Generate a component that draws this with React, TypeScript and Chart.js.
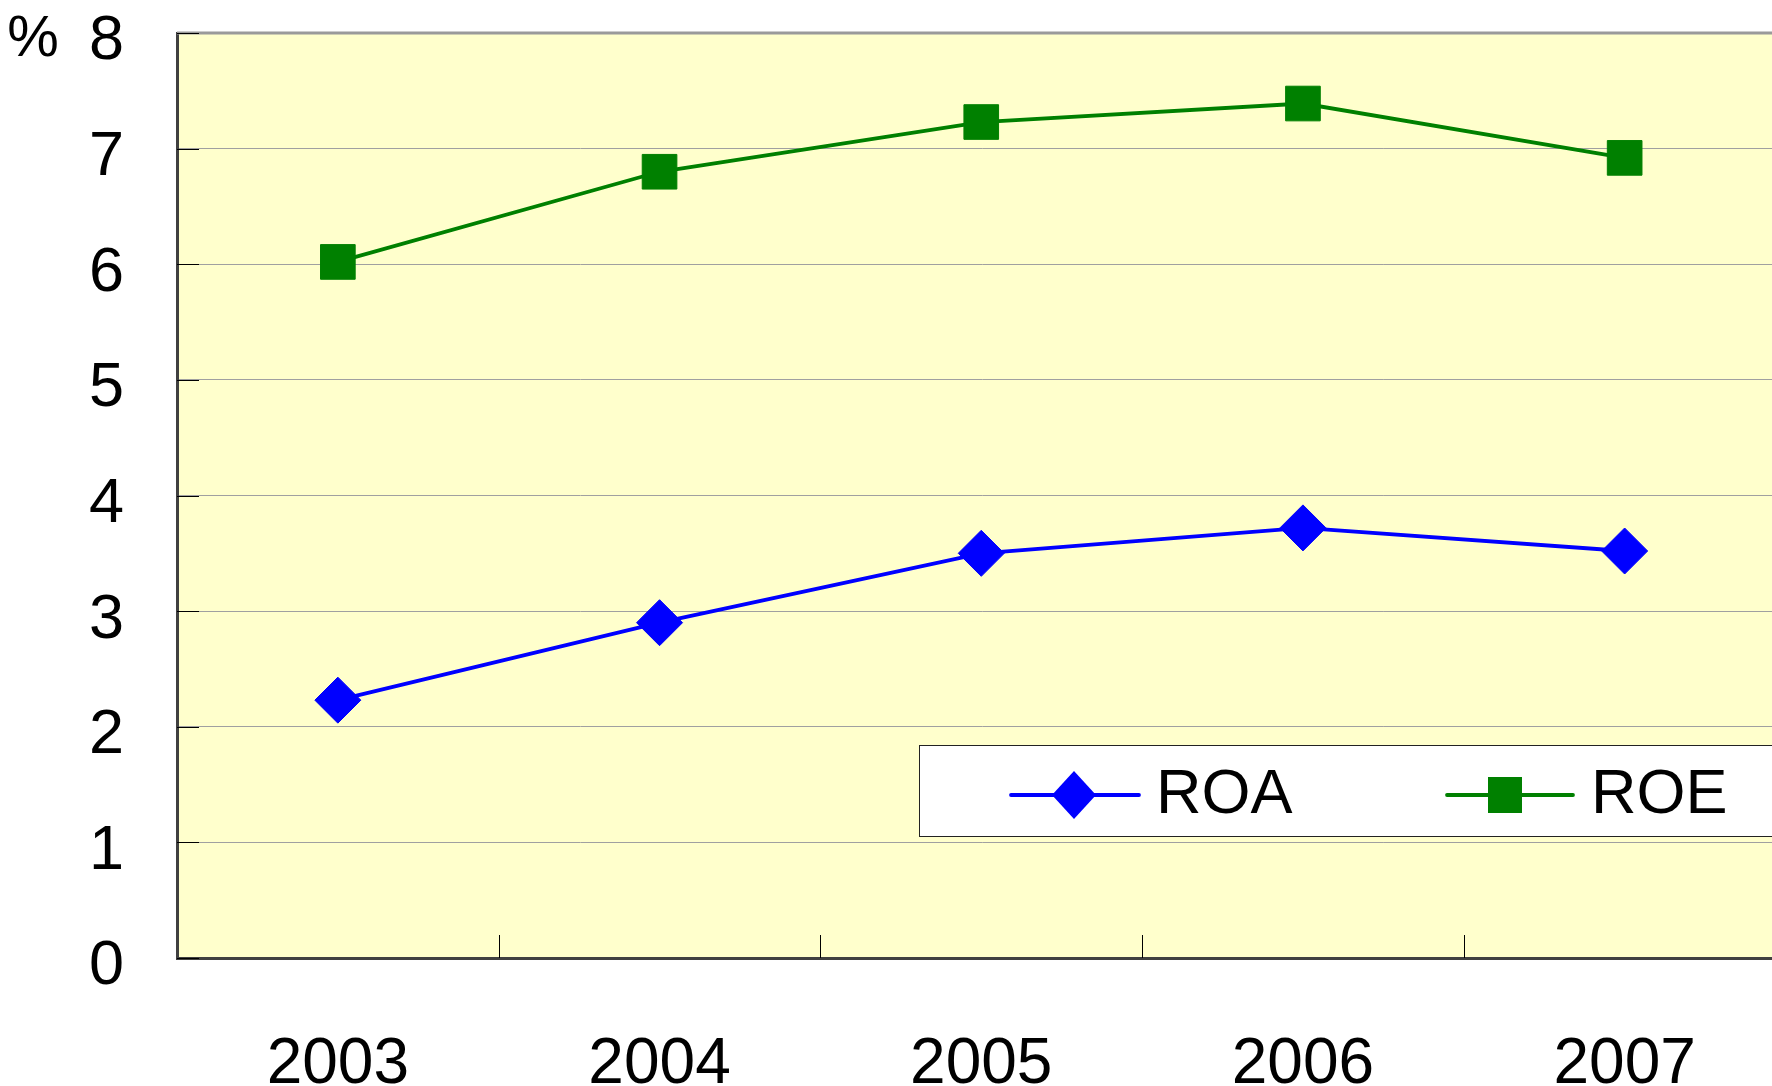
import React, { useEffect, useRef } from 'react';
import { Chart, registerables } from 'chart.js';

Chart.register(...registerables);

const years = ['2003', '2004', '2005', '2006', '2007'];
const roaValues = [2.23, 2.9, 3.5, 3.72, 3.52];
const roeValues = [6.02, 6.8, 7.23, 7.39, 6.92];
const seriesNames = ['ROA', 'ROE'];
const yMin = 0;
const yMax = 8;
const yStep = 1;
const unitLabel = '%';

const FONT = "'Liberation Sans', Arial, sans-serif";

const decor = {
  id: 'decor',
  beforeDraw(chart: any) {
    const { ctx, chartArea: a } = chart;
    ctx.save();
    ctx.fillStyle = '#FFFFCC';
    ctx.fillRect(a.left, a.top, a.right - a.left, a.bottom - a.top);
    ctx.restore();
  },
  afterDraw(chart: any) {
    const { ctx, chartArea: a, scales } = chart;
    const xs = scales.x;
    const ys = scales.y;
    ctx.save();
    // top border
    ctx.strokeStyle = '#9a9a9a';
    ctx.lineWidth = 3;
    ctx.beginPath();
    ctx.moveTo(a.left, a.top);
    ctx.lineTo(a.right, a.top);
    ctx.stroke();
    // inner y tick marks
    ctx.strokeStyle = '#000';
    ctx.lineWidth = 1;
    ys.ticks.forEach((t: any) => {
      const py = Math.round(ys.getPixelForValue(t.value)) + 0.5;
      ctx.beginPath();
      ctx.moveTo(a.left, py);
      ctx.lineTo(a.left + 22, py);
      ctx.stroke();
    });
    // inner x tick marks at category boundaries
    for (let i = 0; i < years.length - 1; i++) {
      const px = Math.round((xs.getPixelForValue(i) + xs.getPixelForValue(i + 1)) / 2) + 0.5;
      ctx.beginPath();
      ctx.moveTo(px, a.bottom);
      ctx.lineTo(px, a.bottom - 23);
      ctx.stroke();
    }
    // unit label
    ctx.fillStyle = '#000';
    ctx.font = `58px ${FONT}`;
    ctx.textAlign = 'center';
    ctx.textBaseline = 'middle';
    ctx.fillText(unitLabel, 33, 40);

    // legend box
    const lx = 919;
    const ly = 745;
    const lh = 91;
    const lw = a.right + 50 - lx;
    ctx.fillStyle = '#ffffff';
    ctx.fillRect(lx, ly, lw, lh);
    ctx.strokeStyle = '#222';
    ctx.lineWidth = 1;
    ctx.strokeRect(lx + 0.5, ly + 0.5, lw, lh);

    const cy = ly + 50;
    const items = [
      { ds: 0, x1: 1011, x2: 1139, mx: 1074, tx: 1156 },
      { ds: 1, x1: 1447, x2: 1573, mx: 1505, tx: 1591 },
    ];
    items.forEach((it) => {
      const ds = chart.data.datasets[it.ds];
      ctx.strokeStyle = ds.borderColor;
      ctx.lineWidth = ds.borderWidth;
      ctx.lineCap = 'round';
      ctx.beginPath();
      ctx.moveTo(it.x1, cy);
      ctx.lineTo(it.x2, cy);
      ctx.stroke();
      ctx.fillStyle = ds.backgroundColor;
      ctx.beginPath();
      if (ds.pointStyle === 'rectRot') {
        const r = 24;
        ctx.moveTo(it.mx - r + 2, cy);
        ctx.lineTo(it.mx, cy - r);
        ctx.lineTo(it.mx + r - 2, cy);
        ctx.lineTo(it.mx, cy + r);
        ctx.closePath();
      } else {
        const s = 17;
        ctx.rect(it.mx - s, cy - s - 1, 2 * s, 2 * s + 2);
      }
      ctx.fill();
      ctx.fillStyle = '#000';
      ctx.font = `63px ${FONT}`;
      ctx.textAlign = 'left';
      ctx.textBaseline = 'middle';
      ctx.fillText(ds.label, it.tx, cy + 1);
    });
    ctx.restore();
  },
};

export default function App() {
  const ref = useRef<HTMLCanvasElement>(null);
  useEffect(() => {
    const chart = new Chart(ref.current as HTMLCanvasElement, {
      type: 'line',
      data: {
        labels: years,
        datasets: [
          {
            label: seriesNames[0],
            data: roaValues,
            borderColor: '#0000FF',
            backgroundColor: '#0000FF',
            borderWidth: 3.8,
            pointStyle: 'rectRot',
            pointRadius: 23,
            pointBorderWidth: 1,
            tension: 0,
          },
          {
            label: seriesNames[1],
            data: roeValues,
            borderColor: '#008000',
            backgroundColor: '#008000',
            borderWidth: 3.8,
            pointStyle: 'rect',
            pointRadius: 24.5,
            pointBorderWidth: 1,
            tension: 0,
          },
        ],
      },
      options: {
        responsive: false,
        maintainAspectRatio: false,
        animation: false,
        events: [],
        layout: { padding: { top: 33, right: 10, left: 0, bottom: 0 } },
        plugins: { legend: { display: false }, tooltip: { enabled: false } },
        scales: {
          x: {
            type: 'category',
            offset: true,
            grid: { display: false, drawTicks: false },
            border: { display: true, color: '#404040', width: 3 },
            ticks: { padding: 69, color: '#000', font: { family: FONT, size: 64 } },
            afterFit: (s: any) => {
              s.height = 128;
              s.paddingLeft = 0;
              s.paddingRight = 0;
            },
          },
          y: {
            min: yMin,
            max: yMax,
            ticks: { stepSize: yStep, padding: 53, labelOffset: 9, color: '#000', font: { family: FONT, size: 63 } },
            grid: { color: '#a0a0a0', lineWidth: 1, drawTicks: false },
            border: { display: true, color: '#404040', width: 3 },
            afterFit: (s: any) => {
              s.width = 177;
              s.paddingTop = 0;
              s.paddingBottom = 0;
            },
          },
        },
      },
      plugins: [decor],
    } as any);
    return () => chart.destroy();
  }, []);
  return (
    <div style={{ position: 'absolute', left: 0, top: 0, width: 1772, height: 1086, overflow: 'hidden', background: '#fff' }}>
      <canvas ref={ref} width={1811} height={1086} style={{ display: 'block', width: 1811, height: 1086 }} />
    </div>
  );
}
